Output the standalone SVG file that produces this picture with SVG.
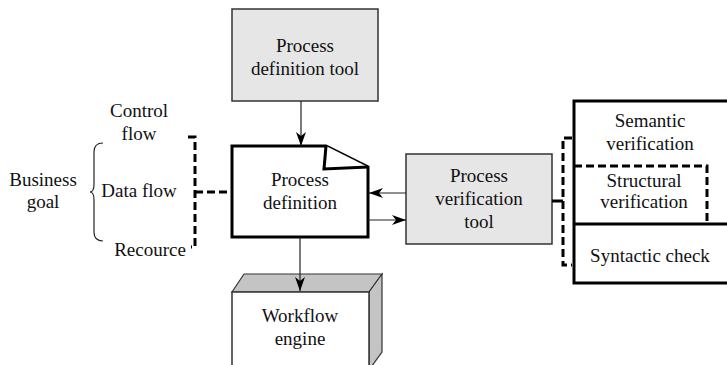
<svg xmlns="http://www.w3.org/2000/svg" width="727" height="365" viewBox="0 0 727 365">
<defs>
<marker id="ah" viewBox="0 0 14 10" refX="14" refY="5" markerWidth="14" markerHeight="10" markerUnits="userSpaceOnUse" orient="auto">
<path d="M0,0 L14,5 L0,10 L4,5 Z" fill="#000"/>
</marker>
</defs>
<style>
text{font-family:"Liberation Serif","Times New Roman",serif;font-size:19px;fill:#111;text-anchor:middle}
.tool{fill:#e6e6e6;stroke:#333;stroke-width:1.5}
.thick{fill:#fff;stroke:#000;stroke-width:3}
.dash{fill:none;stroke:#000;stroke-width:3;stroke-dasharray:8,4}
.line{fill:none;stroke:#222;stroke-width:1.2}
</style>
<rect width="727" height="365" fill="#fff"/>

<g id="process-definition-tool">
<rect class="tool" x="232" y="9" width="146" height="92"/>
<text x="305" y="52">Process</text>
<text x="305" y="75">definition tool</text>
</g>

<g id="process-definition">
<path class="thick" d="M232,146 L326,146 L368,167 L368,237 L232,237 Z"/>
<path class="thick" d="M326,146 L324,169 L368,167"/>
<text x="300" y="186">Process</text>
<text x="300" y="209">definition</text>
</g>

<g id="process-verification-tool">
<rect class="tool" x="406" y="154" width="146" height="90"/>
<text x="479" y="182">Process</text>
<text x="479" y="205">verification</text>
<text x="479" y="228">tool</text>
</g>

<g id="workflow-engine">
<path d="M232,292 L244,274 L382,274 L369,292 Z" fill="#c4c4c4" stroke="#333" stroke-width="1.2"/>
<path d="M369,292 L382,274 L382,352 L369,370 Z" fill="#c4c4c4" stroke="#333" stroke-width="1.2"/>
<rect x="232" y="292" width="137" height="80" fill="#fff" stroke="#333" stroke-width="1.5"/>
<text x="300" y="322">Workflow</text>
<text x="300" y="345">engine</text>
</g>

<g id="verification-stack">
<rect x="574" y="101" width="170" height="182" fill="#fff" stroke="#000" stroke-width="3"/>
<line x1="574" y1="224" x2="727" y2="224" stroke="#000" stroke-width="3"/>
<path class="dash" d="M574,166 L707,166 L707,224"/>
<text x="650" y="127">Semantic</text>
<text x="650" y="150">verification</text>
<text x="644" y="187">Structural</text>
<text x="644" y="208">verification</text>
<text x="650" y="262">Syntactic check</text>
</g>

<g id="business-goal">
<text x="43" y="186">Business</text>
<text x="43" y="208">goal</text>
<path d="M103,143 Q94,143 94,152 L94,184 Q94,192 90,192 Q94,192 94,200 L94,232 Q94,241 103,241" fill="none" stroke="#222" stroke-width="1.2"/>
<text x="139" y="117">Control</text>
<text x="139" y="140">flow</text>
<text x="139" y="197">Data flow</text>
<text x="150" y="256">Recource</text>
</g>

<g id="connectors">
<line class="line" x1="301" y1="101" x2="301" y2="146" marker-end="url(#ah)"/>
<line class="line" x1="406" y1="193" x2="369" y2="193" marker-end="url(#ah)"/>
<line class="line" x1="368" y1="220" x2="406" y2="220" marker-end="url(#ah)"/>
<line class="line" x1="300" y1="237" x2="300" y2="291" marker-end="url(#ah)"/>
<path class="dash" d="M188,137 L195,137 L195,247 L191,247"/>
<line x1="195" y1="192" x2="232" y2="192" stroke="#000" stroke-width="3" stroke-dasharray="8,4"/>
<path class="dash" d="M572,138 L563,138 L563,265 L572,265"/>
<line x1="552" y1="201" x2="563" y2="201" stroke="#000" stroke-width="3"/>
</g>
</svg>
